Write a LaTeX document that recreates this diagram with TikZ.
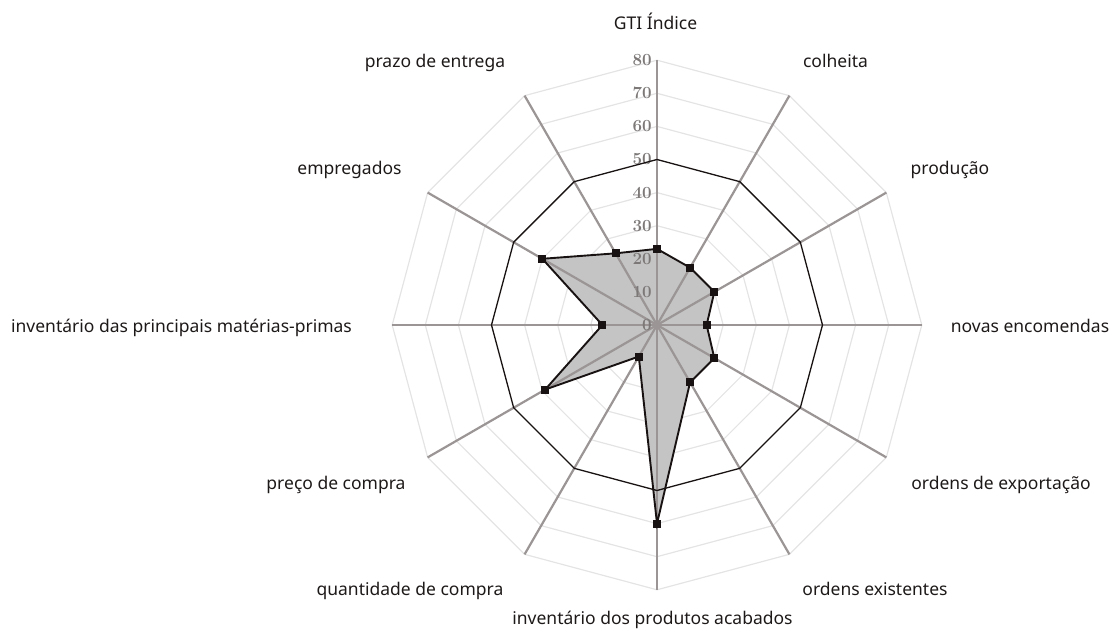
\documentclass[tikz,border=0pt]{standalone}
\usepackage{fontspec}
\newfontfamily\labelfont{Noto Sans}
\definecolor{axisgray}{RGB}{155,149,149}
\definecolor{gridgray}{RGB}{228,228,228}
\definecolor{fillgray}{RGB}{196,196,196}
\definecolor{labelblack}{RGB}{30,25,25}
\definecolor{tickgray}{RGB}{125,120,120}
\definecolor{inkblack}{RGB}{25,18,18}
\begin{document}
\begin{tikzpicture}[x=1pt,y=1pt,
  axisline/.style={draw=axisgray, line width=2.2pt},
  gridring/.style={draw=gridgray, line width=1.2pt},
  midring/.style={draw=inkblack, line width=1.3pt},
  dataline/.style={draw=inkblack, line width=1.9pt, line join=miter},
  marker/.style={rectangle, fill=inkblack, minimum size=8pt, inner sep=0pt},
  axlabel/.style={font=\labelfont\fontsize{17.5}{20}\selectfont, text=labelblack, inner sep=0pt, anchor=base},
  ticklabel/.style={font=\bfseries\fontsize{17}{18}\selectfont, text=tickgray, anchor=east, inner sep=0pt}
]
\useasboundingbox (-657,-319) rectangle (457,325);
\def\s{3.31}
\coordinate (O) at (0,0);
% data points
\foreach \v [count=\k from 0] in {23,20,20,15,20,20,60,11,39,16.5,40,25} {
  \coordinate (d\k) at ({90-30*\k}:{\v*\s});
}
% grid rings
\foreach \r in {10,20,30,40,60,70,80} {
  \draw[gridring] (90:{\r*\s}) \foreach \k in {1,...,11} {-- ({90-30*\k}:{\r*\s})} -- cycle;
}
% filled data area
\fill[fillgray] (d0) \foreach \k in {1,...,11} {-- (d\k)} -- cycle;
% axes
\foreach \k in {0,...,11} {
  \coordinate (a\k) at ({90-30*\k}:{80*\s});
  \draw[axisline] (O) -- (a\k);
}
% tick labels
\foreach \v in {0,10,...,80} {
  \node[ticklabel] (t\v) at (-5,{\v*\s}) {\v};
}
% ring 50
\draw[midring] (90:{50*\s}) \foreach \k in {1,...,11} {-- ({90-30*\k}:{50*\s})} -- cycle;
% data outline
\draw[dataline] (d0) \foreach \k in {1,...,11} {-- (d\k)} -- cycle;
\foreach \k in {0,...,11} {
  \node[marker] (m\k) at (d\k) {};
}
% axis labels
\node[axlabel] (l0)  at (-1.5,295)   {GTI Índice};
\node[axlabel] (l1)  at (178.5,257)  {colheita};
\node[axlabel] (l2)  at (293,150)    {produção};
\node[axlabel] (l3)  at (373,-7.5)   {novas encomendas};
\node[axlabel] (l4)  at (344,-165)   {ordens de exportação};
\node[axlabel] (l5)  at (218,-271)   {ordens existentes};
\node[axlabel] (l6)  at (-4.5,-300)  {inventário dos produtos acabados};
\node[axlabel] (l7)  at (-247,-271)  {quantidade de compra};
\node[axlabel] (l8)  at (-321,-165)  {preço de compra};
\node[axlabel] (l9)  at (-475.5,-7.5) {inventário das principais matérias-primas};
\node[axlabel] (l10) at (-307.5,150) {empregados};
\node[axlabel] (l11) at (-222,257)   {prazo de entrega};
\end{tikzpicture}
\end{document}
